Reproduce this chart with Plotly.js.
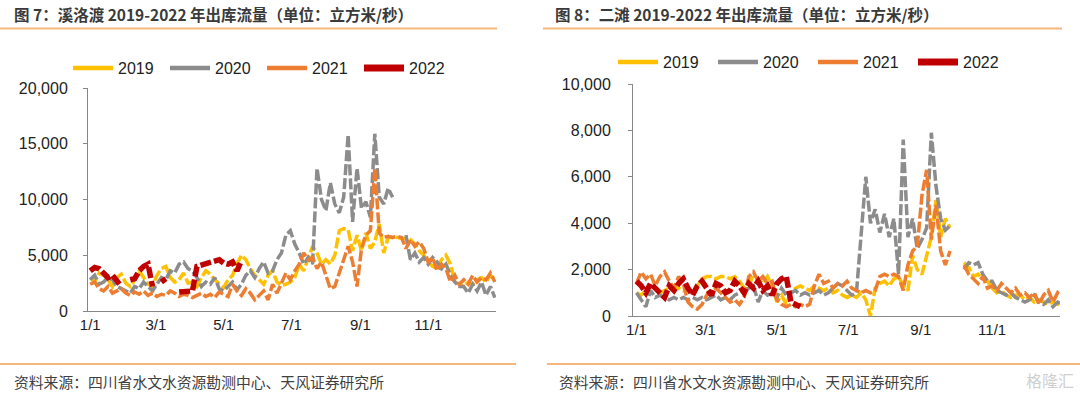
<!DOCTYPE html>
<html>
<head>
<meta charset="utf-8">
<script src="https://cdn.plot.ly/plotly-3.0.1.min.js"></script>
<style>
html,body{margin:0;padding:0;background:#fff;}
#chart{width:1080px;height:394px;}
</style>
</head>
<body>
<div id="chart"></div>
<script>
// Day-of-year sampling grid (every 4 days)
const days = [0,4,8,12,16,20,24,28,32,36,40,44,48,52,56,60,64,68,72,76,80,84,88,92,96,100,104,108,112,116,120,124,128,132,136,140,144,148,152,156,160,164,168,172,176,180,184,188,192,196,200,204,208,212,216,220,224,228,232,236,240,244,248,252,256,260,264,268,272,276,280,284,288,292,296,300,304,308,312,316,320,324,328,332,336,340,344,348,352,356,360,364];

const seriesNames = ['2019','2020','2021','2022'];
const tickDays = [0,59,120,181,243,304];
const tickLabels = ['1/1','3/1','5/1','7/1','9/1','11/1'];

// 溪洛渡 (Xiluodu) outflow, m3/s
const xld2019 = [3000,2600,3400,3200,2800,2200,3000,3300, 2500,2200,2800,3600,3000,2400,2200, 3200,3800,4000,3000,2600,2800,3400,2500, 2600,2200,3000,3600,3300,2800,2400, 2100,2800,3200,4200,5000,4600,3800,3200, 2800,2400,3200,3600,2600,2300,2400,2600, 3000,4200,3600,4600,5800,5200,4200, 4600,4200,5000,7200,7400,7300,5400,6800, 5400,7000,5600,6200,7800,5200,6600,6600, 6600,6500,6500,6400,6000,5400,5000, 4400,4000,3800,4600,5000,4200,2600,2400, 2200,2600,2400,2800,3000,2600,3200,2800];
const xld2020 = [2800,3200,2400,2600,3000,2800,2200,2000, 1800,1600,2200,2000,2600,2200,1800, 2400,3000,2800,3600,3400,4200,4400,3800, 3600,3000,2200,2600,2400,3000,2000, 1800,2200,2600,1900,2400,3200,3600,3000, 3800,4400,3400,3600,4600,5200,6800,7200, 6000,5200,4200,4800,4200,12800,10000, 9000,11500,9600,8800,10200,15800,8000,12800, 9200,9800,8400,15900,10200,9600,11000,10200, null,null,6800,4600,5200,4400,4800, 4200,4800,4400,3800,4200,3200,2600,2200, 2200,1600,2400,1800,2600,1400,2200,1200];
const xld2021 = [2400,2600,2000,1800,2200,1600,1800,2000, 1600,1400,1700,1500,1800,1400,1600, 1300,1500,1400,1800,1600,1300,1500,1400, 1200,1400,1600,1300,1500,1200,1700, 1500,1300,2400,1800,1400,2000,1600,1000, 1400,1800,1000,2400,1600,2600,3400,2800, 3600,4200,5200,4600,4800,3800,4400, 3200,2000,2200,3400,4600,5800,4400,2200, 5600,6800,7200,12800,7000,6600,6700,6600, 6700,6600,5600,6400,5800,6200,5600, 4400,4800,3600,4200,3800,2600,3200,2400, 2800,2400,3200,2600,3000,2800,3400,2600];
const xld2022 = [3600,3900,3800,3400,3000,3200,2600,2200, null,2800,2900,3600,4000,4200,2200, null,2600,2900,null,null,1700,1700,1800, 1800,4000,4100,4200,4400,4500,4600, 4300,4200,4400,3600,4500];

// 二滩 (Ertan) outflow, m3/s
const et2019 = [1000,900,1100,1300,1200,1000,1100,1200, 1300,1200,1100,1200,1000,1300,1600, 1700,1700,1600,1700,1700,1600,1700,1500, 1200,1300,1800,1600,1400,1700,1300, 600,900,500,1000,1200,1300,1200,1100, 1300,1200,1100,1200,1000,1100,900,800, 900,800,1000,700,0,1200,1400, 1500,1300,1600,1700,1300,1100,2600,2000, 1800,2600,3400,5000,3400,4200,3800,null, null,2300,2100,1700,1800,1600,1500, 1200,1000,1100,900,800,900,900,700, 800,600,700,600,500,600,500,700];
const et2020 = [1000,700,400,1100,800,900,800,700, 800,700,800,700,800,700,800, 700,800,900,700,800,700,900,1000, 1100,1200,1300,600,1100,900,1000, 800,1200,900,1000,1100,900,1000,900, 1000,1100,900,1000,1200,1400,1300,1100, 900,1000,3400,6000,4000,4600,3600, 4400,3400,4200,1800,7600,3400,4200,2900, 3300,3800,7900,5600,4200,3700,3900,null, null,2000,2300,2200,2300,1800,1500, 1500,1100,1000,900,1000,800,700,600, 700,900,600,500,700,400,600,500];
const et2021 = [1400,1900,1600,1800,1300,1700,1900,1500, 1200,1700,1400,600,400,300,500, 900,1100,1200,1000,800,600,700,500, 800,1700,1900,1500,1700,1400,1500, 700,500,400,500,400,500,400,500, 1300,1800,1400,1500,1200,1400,1300,1500, 1200,1100,1000,1100,1000,1100,1700, 1800,1700,1800,1700,1100,2200,2800,3000, 5200,6300,3300,4800,2800,2200,2800,null, null,2200,1800,1600,1400,1700,1200, 1300,1100,1400,1200,1000,1200,900,1000, 800,1000,500,900,1100,600,1000,800];
const et2022 = [1500,1300,1000,1400,1200,1000,800,1300, 1100,1400,1600,1200,900,1300,1500, 1200,900,1400,1300,1000,1100,1500,1300, 1000,1400,1200,1500,1100,1300,900, 1400,1600,1700,600,500,400];

const colors = ['#FFC000','#8C8C8C','#ED7D31','#C00000'];
const widths = [3.5,3.5,3.5,5.5];

function mk(y, i, xa, ya){
  return {
    x: days.slice(0, y.length), y: y, type:'scatter', mode:'lines',
    name: seriesNames[i], xaxis: xa, yaxis: ya, showlegend:false,
    line:{color:colors[i], width:widths[i], dash:'11px,3px'},
    connectgaps:false, hoverinfo:'skip'
  };
}
// legend entries (solid key lines, as in the original)
function key(i, xa, ya, lg){
  return {
    x:[null], y:[null], type:'scatter', mode:'lines', name: seriesNames[i],
    xaxis: xa, yaxis: ya, legend: lg, showlegend:true,
    line:{color:colors[i], width: i===3 ? 7 : 4.5}, hoverinfo:'skip'
  };
}

const traces = [
  mk(xld2019,0,'x','y'), mk(xld2020,1,'x','y'),
  mk(xld2021,2,'x','y'), mk(xld2022,3,'x','y'),
  mk(et2019,0,'x2','y2'), mk(et2020,1,'x2','y2'),
  mk(et2021,2,'x2','y2'), mk(et2022,3,'x2','y2'),
  key(0,'x','y','legend'), key(1,'x','y','legend'), key(2,'x','y','legend'), key(3,'x','y','legend'),
  key(0,'x2','y2','legend2'), key(1,'x2','y2','legend2'), key(2,'x2','y2','legend2'), key(3,'x2','y2','legend2')
];

const W=1080, H=394;
const px = v => v/W, py = v => 1 - v/H;
const tickFontY = {family:'Liberation Sans, Arial, sans-serif', size:16, color:'#222'};
const tickFontX = {family:'Liberation Sans Narrow, Liberation Sans, sans-serif', size:15, color:'#222'};
const axisCommon = {showgrid:false, zeroline:false, showline:true, linecolor:'#888', linewidth:1, fixedrange:true};

const legendCommon = {orientation:'h', xanchor:'left', yanchor:'middle',
  font:{family:'Liberation Sans, Arial, sans-serif', size:16, color:'#222'},
  bgcolor:'rgba(0,0,0,0)', entrywidthmode:'pixels', tracegroupgap:0, itemwidth:40};

const orange = '#F6B67A';
const layout = {
  width:W, height:H, margin:{l:0,r:0,t:0,b:0},
  paper_bgcolor:'#fff', plot_bgcolor:'#fff', showlegend:true,
  xaxis: Object.assign({}, axisCommon, {domain:[px(88),px(496)], range:[-2,365], tickvals:tickDays, ticktext:tickLabels, ticks:'', tickfont:tickFontX, anchor:'y'}),
  yaxis: Object.assign({}, axisCommon, {domain:[py(311),py(88)], range:[0,20000], tickvals:[0,5000,10000,15000,20000], tickformat:',d', ticks:'outside', ticklen:4, tickcolor:'#888', tickfont:tickFontY, ticklabelstandoff:12, anchor:'x'}),
  xaxis2: Object.assign({}, axisCommon, {domain:[px(633),px(1060)], range:[-3,362], tickvals:tickDays, ticktext:tickLabels, ticks:'', tickfont:tickFontX, anchor:'y2'}),
  yaxis2: Object.assign({}, axisCommon, {domain:[py(316),py(84)], range:[0,10000], tickvals:[0,2000,4000,6000,8000,10000], tickformat:',d', ticks:'outside', ticklen:4, tickcolor:'#888', tickfont:tickFontY, ticklabelstandoff:14, anchor:'x2'}),
  legend: Object.assign({}, legendCommon, {x:px(68), y:py(68), entrywidth:42}),
  legend2: Object.assign({}, legendCommon, {x:px(613), y:py(62), entrywidth:45}),
  shapes:[
    {type:'line', xref:'paper', yref:'paper', x0:0, x1:px(497), y0:py(28.5), y1:py(28.5), line:{color:orange, width:2}},
    {type:'line', xref:'paper', yref:'paper', x0:px(543), x1:px(1062), y0:py(28.5), y1:py(28.5), line:{color:orange, width:2}},
    {type:'line', xref:'paper', yref:'paper', x0:0, x1:px(516), y0:py(364), y1:py(364), line:{color:orange, width:2}},
    {type:'line', xref:'paper', yref:'paper', x0:px(547), x1:1, y0:py(364), y1:py(364), line:{color:orange, width:2}}
  ],
  annotations:[
    {xref:'paper', yref:'paper', x:px(12), y:py(14), xanchor:'left', yanchor:'middle', showarrow:false,
     text:'<b>图 7：溪洛渡 2019-2022 年出库流量（单位：立方米/秒）</b>', font:{family:'Noto Sans CJK SC, sans-serif', size:15.5, color:'#3a3a3a'}},
    {xref:'paper', yref:'paper', x:px(553), y:py(14), xanchor:'left', yanchor:'middle', showarrow:false,
     text:'<b>图 8：二滩 2019-2022 年出库流量（单位：立方米/秒）</b>', font:{family:'Noto Sans CJK SC, sans-serif', size:15.5, color:'#3a3a3a'}},
    {xref:'paper', yref:'paper', x:px(12), y:py(381), xanchor:'left', yanchor:'middle', showarrow:false,
     text:'资料来源：四川省水文水资源勘测中心、天风证券研究所', font:{family:'Noto Sans CJK SC, sans-serif', size:14.8, color:'#404040'}},
    {xref:'paper', yref:'paper', x:px(557), y:py(381), xanchor:'left', yanchor:'middle', showarrow:false,
     text:'资料来源：四川省水文水资源勘测中心、天风证券研究所', font:{family:'Noto Sans CJK SC, sans-serif', size:14.8, color:'#404040'}},
    {xref:'paper', yref:'paper', x:px(1076), y:py(380), xanchor:'right', yanchor:'middle', showarrow:false,
     text:'格隆汇', font:{family:'Noto Sans CJK SC, sans-serif', size:16, color:'#cfcfcf'}}
  ]
};

Plotly.newPlot('chart', traces, layout, {staticPlot:true, displayModeBar:false});
</script>
</body>
</html>
